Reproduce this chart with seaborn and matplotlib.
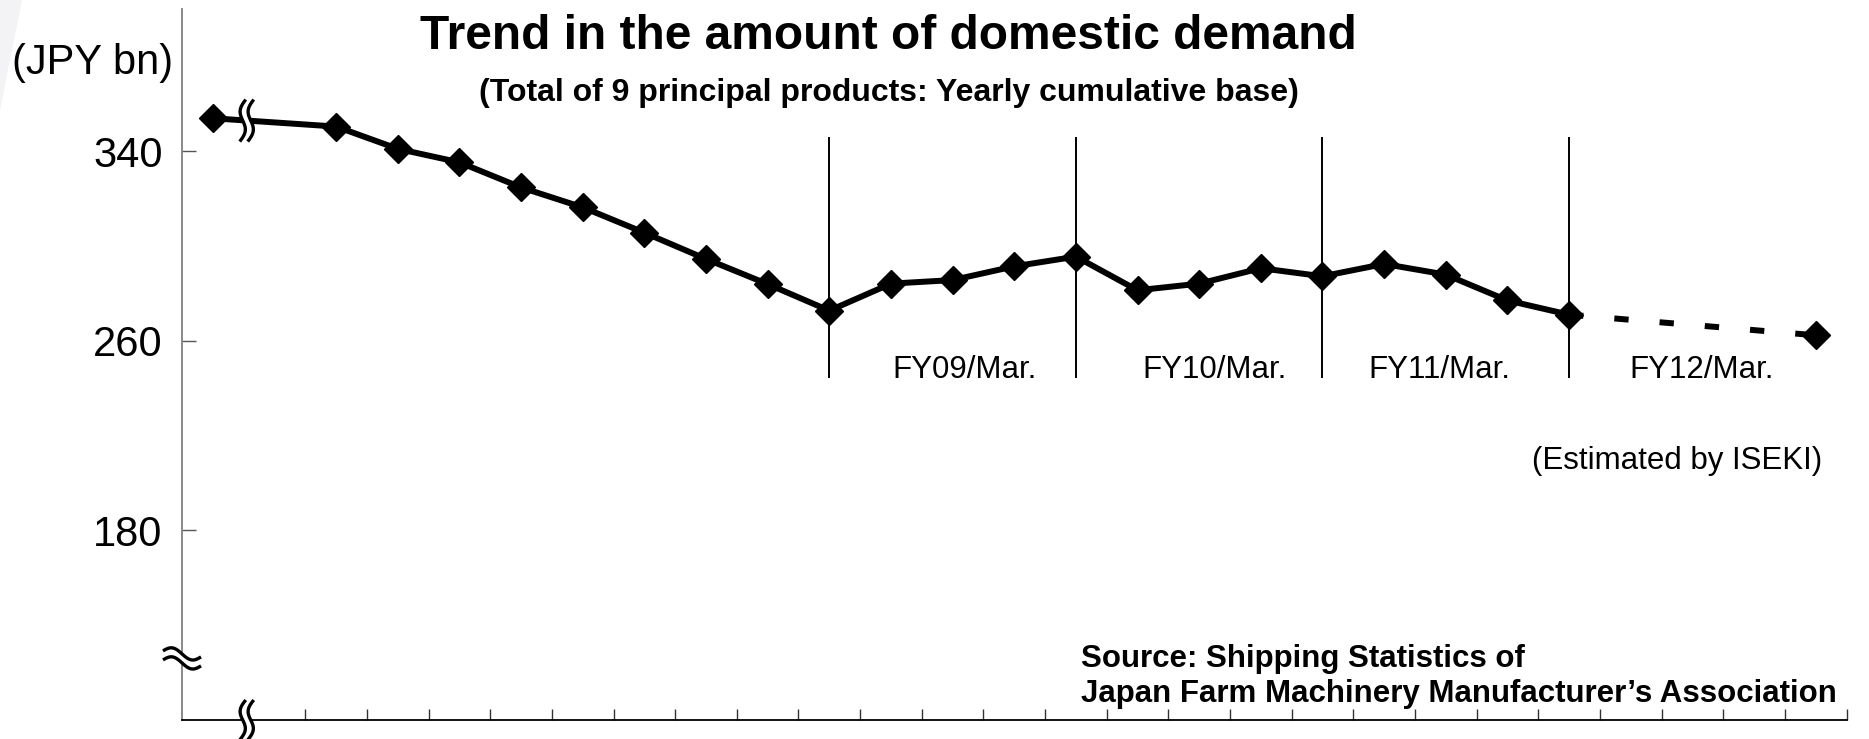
import numpy as np
import pandas as pd
import matplotlib
matplotlib.use("Agg")
import matplotlib.pyplot as plt
import seaborn as sns
from matplotlib.lines import Line2D
from matplotlib.patches import Polygon
from matplotlib.transforms import IdentityTransform

sns.set_theme(style="white")
plt.rcParams["font.family"] = ["Liberation Sans", "DejaVu Sans"]
plt.rcParams["text.color"] = "black"
plt.rcParams["axes.labelcolor"] = "black"
plt.rcParams["xtick.color"] = "black"
plt.rcParams["ytick.color"] = "black"

# Category slots on the x axis: slot 0 is the early annual figure,
# slot 1 is the axis break, slots 2..26 are quarterly yearly-cumulative totals.
actual_pos = [0, 2, 3, 4, 5, 6, 7, 8, 9, 10, 11, 12, 13, 14, 15, 16, 17, 18, 19, 20, 21, 22]
actual_val = [354.0, 350.5, 341.1, 335.4, 324.8, 316.4, 305.7, 294.6, 284.0, 272.8,
              284.2, 285.7, 291.5, 295.6, 281.4, 284.2, 290.7, 287.3, 292.5, 288.0,
              277.1, 271.1]
forecast_pos = [22, 26]
forecast_val = [271.1, 262.4]

fy_labels = ["FY09/Mar.", "FY10/Mar.", "FY11/Mar.", "FY12/Mar."]
fy_start = [10, 14, 18, 22]
fy_label_x = [12.2, 16.25, 19.9, 24.15]
y_ticks = [180, 260, 340]
n_slots = 27

actual = pd.DataFrame({"slot": actual_pos, "value": actual_val})
forecast = pd.DataFrame({"slot": forecast_pos, "value": forecast_val})

W, H, DPI = 1869, 739, 100
fig = plt.figure(figsize=(W / DPI, H / DPI), dpi=DPI)
fig.patch.set_facecolor("white")

# faint slide-background wedge in the upper-left corner
fig.add_artist(Polygon([(0, 1), (22 / W, 1), (0, 1 - 110 / H)], closed=True,
                       facecolor="#f3f3f6", edgecolor="none",
                       transform=fig.transFigure, zorder=0))

ax = fig.add_axes([182 / W, 19 / H, 1664.5 / W, 710.7 / H])
ax.set_facecolor("none")
ax.set_xlim(-0.5, n_slots - 0.5)
ax.set_ylim(100, 400)

# fiscal-year separators
ax.vlines(fy_start, 244.4, 346, color="black", lw=1.4, zorder=2)

sns.lineplot(data=actual, x="slot", y="value", ax=ax, color="black",
             marker="D", sort=False, zorder=4)
line_actual = ax.lines[-1]
sns.lineplot(data=forecast, x="slot", y="value", ax=ax, color="black",
             marker="D", sort=False, zorder=4)
line_forecast = ax.lines[-1]

for ln in (line_actual, line_forecast):
    ln.set_linewidth(4.3)
    ln.set_markersize(14)
    ln.set_markeredgewidth(1.0)
    ln.set_markeredgecolor("black")
    ln.set_markerfacecolor("black")
line_actual.set_solid_joinstyle("miter")
line_forecast.set_linestyle((0, (2.4, 5.2)))
line_forecast.set_dash_capstyle("butt")
line_forecast.set_markevery([1])

for lab, xpos in zip(fy_labels, fy_label_x):
    ax.text(xpos, 244.4, lab, ha="center", va="baseline", fontsize=22.5, color="black")

# axes styling
for s in ["top", "right"]:
    ax.spines[s].set_visible(False)
ax.spines["left"].set_color("#808080")
ax.spines["left"].set_linewidth(1.3)
ax.spines["bottom"].set_color("black")
ax.spines["bottom"].set_linewidth(1.3)
ax.set_xlabel("")
ax.set_ylabel("")
ax.set_yticks(y_ticks)
ax.set_yticklabels([str(v) for v in y_ticks])
ax.set_xticks(np.arange(1.5, n_slots, 1.0))
ax.set_xticklabels([])
ax.tick_params(axis="y", direction="in", length=10, width=1, color="#555555",
               labelsize=30, pad=14, labelcolor="black", left=True)
ax.tick_params(axis="x", direction="in", length=8, width=1, color="#333333", bottom=True)
ax.grid(False)

# text blocks
fig.text(888 / W, 1 - 49 / H, "Trend in the amount of domestic demand",
         ha="center", va="baseline", fontsize=34.5, fontweight="bold", color="black")
fig.text(889 / W, 1 - 100.7 / H, "(Total of 9 principal products: Yearly cumulative base)",
         ha="center", va="baseline", fontsize=23, fontweight="bold", color="black")
fig.text(173 / W, 1 - 74 / H, "(JPY bn)", ha="right", va="baseline", fontsize=30, color="black")
fig.text(1822 / W, 1 - 469 / H, "(Estimated by ISEKI)", ha="right", va="baseline",
         fontsize=22.5, color="black")
fig.text(1081 / W, 1 - 666.5 / H, "Source: Shipping Statistics of",
         ha="left", va="baseline", fontsize=22.5, fontweight="bold", color="black")
fig.text(1081 / W, 1 - 702 / H, "Japan Farm Machinery Manufacturer\u2019s Association",
         ha="left", va="baseline", fontsize=22.5, fontweight="bold", color="black")


def break_mark(cx, cy, vertical=True, length=38, amp=4.0, tilt=3.0, gap=8.0, lw=2.4):
    """Draw a pair of wavy strokes (pixel units, display origin bottom-left)
    with a white band between them."""
    t = np.linspace(-1, 1, 80)
    along = t * length / 2
    across = -amp * np.sin(np.pi * t) + tilt * t
    strokes = []
    for off in (-gap / 2, gap / 2):
        if vertical:
            xs, ys = cx + across + off, cy + along
        else:
            xs, ys = cx + along, cy + across + off
        strokes.append((xs, ys))
    pts = np.vstack([np.column_stack(strokes[0]), np.column_stack(strokes[1])[::-1]])
    fig.add_artist(Polygon(pts, closed=True, facecolor="white", edgecolor="none",
                           transform=IdentityTransform(), zorder=10))
    for xs, ys in strokes:
        fig.add_artist(Line2D(xs, ys, color="black", lw=lw, solid_capstyle="butt",
                              transform=IdentityTransform(), zorder=11))


to_px = ax.transData.transform
# break on the x axis between slot 0 and slot 2
bx, by = to_px((0.55, 100))
break_mark(bx, by, vertical=True, length=40)
# break on the data line
lx, ly = to_px((0.55, actual_val[0] + (actual_val[1] - actual_val[0]) * 0.55 / 2))
break_mark(lx, ly, vertical=True, length=42)
# break on the y axis
yx, yy = to_px((-0.5, 126))
break_mark(yx, yy, vertical=False, length=38, amp=4.5, tilt=-3.0, gap=9)

fig.savefig("out.png", dpi=DPI, facecolor="white")
